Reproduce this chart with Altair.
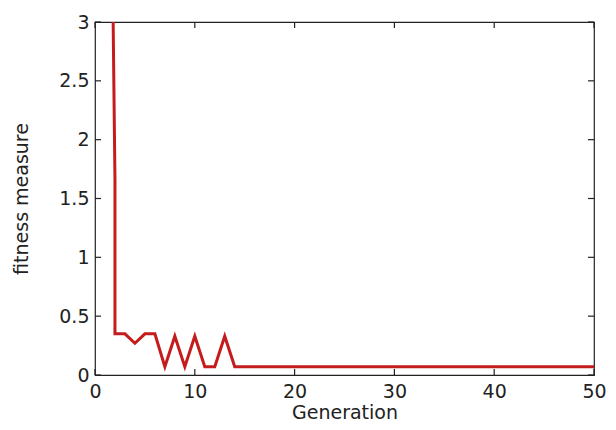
import altair as alt
import pandas as pd

generation = [1, 2, 2, 3, 4, 5, 6, 7, 8, 9, 10, 11, 12, 13, 14] + list(range(15, 51))
fitness = [9.0, 1.67, 0.35, 0.35, 0.27, 0.35, 0.35, 0.07, 0.33, 0.07, 0.33, 0.07, 0.07, 0.33, 0.07] + [0.07] * 36

x_ticks = [0, 10, 20, 30, 40, 50]
y_ticks = [0, 0.5, 1, 1.5, 2, 2.5, 3]

W, H = 499, 353
TL = 6  # tick length

df = pd.DataFrame({"gen": generation, "fit": fitness, "idx": list(range(len(generation)))})
xt = pd.DataFrame({"tx": x_ticks})
yt = pd.DataFrame({"ty": y_ticks})

FONT = "DejaVu Sans"
AX = "#222222"

xs = alt.Scale(domain=[0, 50], nice=False, zero=False)
ys = alt.Scale(domain=[0, 3], nice=False, zero=False)

x_axis = alt.Axis(
    orient="bottom", values=x_ticks, ticks=False, domain=False, grid=False,
    labelFlush=False, labelPadding=7, labelFontSize=19, labelFont=FONT,
    labelColor="#222", title="Generation", titleFont=FONT, titleFontSize=19,
    titleFontWeight="normal", titleColor="#222", titlePadding=2)
y_axis = alt.Axis(
    orient="left", values=y_ticks, ticks=False, domain=False, grid=False,
    labelFlush=False, labelPadding=6, labelFontSize=19, labelFont=FONT,
    labelColor="#222", format="~g", title="fitness measure", titleFont=FONT,
    titleFontSize=19, titleFontWeight="normal", titleColor="#222", titlePadding=27)

main = alt.Chart(df).mark_line(color="#c41c1c", strokeWidth=3, clip=True).encode(
    x=alt.X("gen:Q", scale=xs, axis=x_axis),
    y=alt.Y("fit:Q", scale=ys, axis=y_axis),
    order="idx:Q")

tick_style = dict(color=AX, strokeWidth=1.2)

bottom = alt.Chart(xt).mark_rule(**tick_style).encode(
    x=alt.X("tx:Q", scale=xs, axis=None), y=alt.value(H), y2=alt.value(H - TL))
top = alt.Chart(xt).mark_rule(**tick_style).encode(
    x=alt.X("tx:Q", scale=xs, axis=None), y=alt.value(0), y2=alt.value(TL))
left = alt.Chart(yt).mark_rule(**tick_style).encode(
    y=alt.Y("ty:Q", scale=ys, axis=None), x=alt.value(0), x2=alt.value(TL))
right = alt.Chart(yt).mark_rule(**tick_style).encode(
    y=alt.Y("ty:Q", scale=ys, axis=None), x=alt.value(W), x2=alt.value(W - TL))

chart = alt.layer(main, bottom, top, left, right).resolve_axis(
    x="independent", y="independent"
).properties(
    width=W, height=H,
    autosize=alt.AutoSizeParams(type="none"),
    padding={"left": 87, "top": 14, "right": 14, "bottom": 47},
    background="white",
).configure_view(stroke=AX, strokeWidth=1.2)

chart.save("out.html", embed_options={"renderer": "svg", "actions": False})
